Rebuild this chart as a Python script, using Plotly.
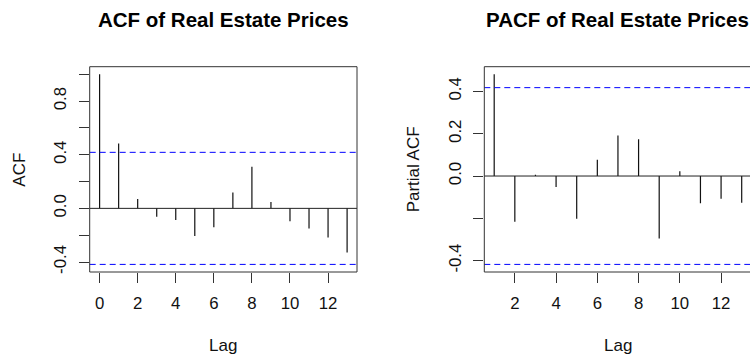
import plotly.graph_objects as go

# Autocorrelation results for the real estate price series (n = 22)
acf_lags = list(range(0, 14))
acf_vals = [1.0, 0.483, 0.070, -0.062, -0.087, -0.207, -0.140, 0.118,
            0.310, 0.048, -0.097, -0.150, -0.217, -0.330]

pacf_lags = list(range(1, 14))
pacf_vals = [0.481, -0.216, 0.006, -0.052, -0.202, 0.077, 0.192, 0.174,
             -0.295, 0.022, -0.129, -0.107, -0.126]

conf_limit = 0.4179  # 1.96 / sqrt(22)

acf_xticks = [0, 2, 4, 6, 8, 10, 12]
acf_yticks = [-0.4, -0.2, 0.0, 0.2, 0.4, 0.6, 0.8, 1.0]
acf_ytext = ["-0.4", "", "0.0", "", "0.4", "", "0.8", ""]
pacf_xticks = [2, 4, 6, 8, 10, 12]
pacf_yticks = [-0.4, -0.2, 0.0, 0.2, 0.4]
pacf_ytext = ["-0.4", "", "0.0", "0.2", "0.4"]

W, H = 750, 356
FONT = "Liberation Sans, Arial, Helvetica, sans-serif"


def spikes(lags, vals):
    xs, ys = [], []
    for l, v in zip(lags, vals):
        xs += [l, l, None]
        ys += [0, v, None]
    return xs, ys


def ext(lo, hi):
    d = (hi - lo) * 0.04
    return [lo - d, hi + d]


fig = go.Figure()

ax, ay = spikes(acf_lags, acf_vals)
fig.add_trace(go.Scatter(x=ax, y=ay, mode="lines", xaxis="x", yaxis="y",
                         line=dict(color="#111111", width=1.2),
                         showlegend=False, hoverinfo="skip"))
px_, py_ = spikes(pacf_lags, pacf_vals)
fig.add_trace(go.Scatter(x=px_, y=py_, mode="lines", xaxis="x2", yaxis="y2",
                         line=dict(color="#111111", width=1.2),
                         showlegend=False, hoverinfo="skip"))

# confidence bounds
for xa, ya in (("x", "y"), ("x2", "y2")):
    for c in (conf_limit, -conf_limit):
        fig.add_shape(type="line", xref=f"{xa} domain", yref=ya,
                      x0=0, x1=1.2 if xa == "x2" else 1, y0=c, y1=c,
                      line=dict(color="#0000ff", width=1, dash="6px,4px"))
    fig.add_shape(type="line", xref=f"{xa} domain", yref=ya,
                  x0=0, x1=1.2 if xa == "x2" else 1, y0=0, y1=0,
                  line=dict(color="#222222", width=1))

# panel frames
fig.add_shape(type="rect", xref="x domain", yref="y domain", x0=0, x1=1, y0=0, y1=1,
              line=dict(color="#333333", width=1))
fig.add_shape(type="rect", xref="x2 domain", yref="y2 domain", x0=0, x1=1.02, y0=0, y1=1,
              line=dict(color="#333333", width=1))

y_dom = [(H - 272) / H, (H - 66.7) / H]
acf_xr = ext(0, 13)
acf_yr = ext(-conf_limit, max(acf_vals))
pacf_yr = ext(-conf_limit, max(pacf_vals))
px_per_lag = 267.3 / 12.96
pacf_xr = [1 - 0.48, 1 - 0.48 + (W - 484.3) / px_per_lag]

axis_common = dict(showgrid=False, zeroline=False, showline=False, ticks="outside",
                   ticklen=10, tickwidth=1, tickcolor="#333333", automargin=False,
                   tickfont=dict(family=FONT, size=16.8, color="#111111"))

fig.update_layout(
    width=W, height=H, margin=dict(l=0, r=0, t=0, b=0),
    paper_bgcolor="white", plot_bgcolor="white",
    xaxis=dict(domain=[89.7 / W, 357 / W], range=acf_xr, tickvals=acf_xticks,
               ticklabelstandoff=6, anchor="y", **axis_common),
    yaxis=dict(domain=y_dom, range=acf_yr, tickvals=acf_yticks, ticktext=acf_ytext,
               tickangle=-90, ticklabelstandoff=6, anchor="x", **axis_common),
    xaxis2=dict(domain=[484.3 / W, 1.0], range=pacf_xr, tickvals=pacf_xticks,
                ticklabelstandoff=6, anchor="y2", **axis_common),
    yaxis2=dict(domain=y_dom, range=pacf_yr, tickvals=pacf_yticks, ticktext=pacf_ytext,
                tickangle=-90, ticklabelstandoff=6, anchor="x2", **axis_common),
)

ann_font = dict(family=FONT, size=17, color="#111111")
title_font = dict(family=FONT, size=20.5, color="#000000")
mid_y = (H - (66.7 + 272) / 2) / H
fig.add_annotation(text="<b>ACF of Real Estate Prices</b>", x=223.35 / W, y=(H - 19.3) / H,
                   xref="paper", yref="paper", showarrow=False, font=title_font,
                   xanchor="center", yanchor="middle")
fig.add_annotation(text="<b>PACF of Real Estate Prices</b>", x=617.95 / W, y=(H - 19.3) / H,
                   xref="paper", yref="paper", showarrow=False, font=title_font,
                   xanchor="center", yanchor="middle")
for cx in (223.35, 617.95):
    fig.add_annotation(text="Lag", x=cx / W, y=(H - 345.7) / H, xref="paper", yref="paper",
                       showarrow=False, font=ann_font, xanchor="center", yanchor="middle")
fig.add_annotation(text="ACF", x=19.3 / W, y=mid_y, xref="paper", yref="paper",
                   showarrow=False, font=ann_font, textangle=-90,
                   xanchor="center", yanchor="middle")
fig.add_annotation(text="Partial ACF", x=413 / W, y=mid_y, xref="paper", yref="paper",
                   showarrow=False, font=ann_font, textangle=-90,
                   xanchor="center", yanchor="middle")

fig.write_html("out.html")
